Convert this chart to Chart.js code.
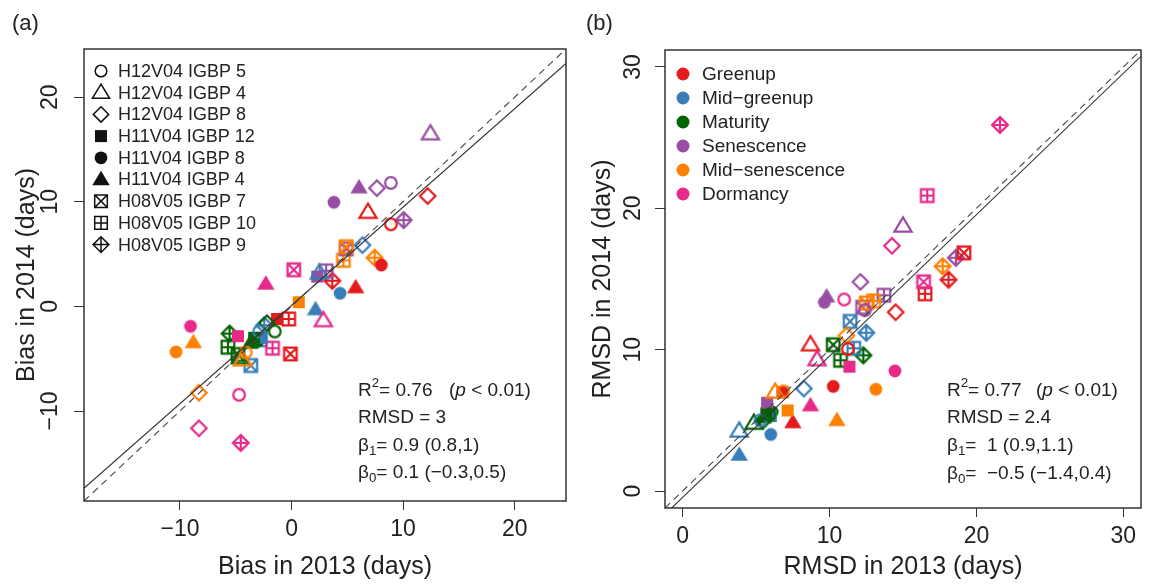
<!DOCTYPE html>
<html>
<head>
<meta charset="utf-8">
<title>Phenology bias and RMSD, 2013 vs 2014</title>
<script src="https://cdn.jsdelivr.net/npm/chart.js@4.4.1/dist/chart.umd.min.js"></script>
<style>
  body { margin: 0; background: #fff; }
  canvas { position: absolute; top: 0; }
  #biasChart { left: 0; }
  #rmsdChart { left: 574px; }
</style>
</head>
<body>
<canvas id="biasChart" width="574" height="584"></canvas>
<canvas id="rmsdChart" width="575" height="584"></canvas>
<script>
// sites set the marker shape, phenophases set the colour
const sites = ['H12V04 IGBP 5', 'H12V04 IGBP 4', 'H12V04 IGBP 8', 'H11V04 IGBP 12', 'H11V04 IGBP 8',
               'H11V04 IGBP 4', 'H08V05 IGBP 7', 'H08V05 IGBP 10', 'H08V05 IGBP 9'];
const phases = ['Greenup', 'Mid\u2212greenup', 'Maturity', 'Senescence', 'Mid\u2212senescence', 'Dormancy'];

// one row per site, one column per phase
const bias2013 = [
  [8.9, -2.9, -1.5, 8.9, -4.1, -4.7],
  [6.85, 2.5, -4.6, 12.45, -4.4, 2.85],
  [12.2, 6.35, -2.2, 7.65, -8.3, -8.3],
  [-1.3, -2.7, -3.35, 2.3, 0.65, -4.8],
  [8.05, 4.35, -3.0, 3.8, -10.35, -9.05],
  [5.75, 2.15, -3.7, 6.05, -8.8, -2.3],
  [-0.1, -3.65, -4.8, 4.9, 4.9, 0.2],
  [-0.25, -2.8, -5.7, 3.1, 4.65, -1.7],
  [3.65, -2.45, -5.55, 10.05, 7.45, -4.55]
];
const bias2014 = [
  [7.85, -2.4, -2.4, 11.8, -4.4, -8.45],
  [9.0, 3.2, -4.9, 16.5, -5.1, -1.35],
  [10.55, 5.85, -1.6, 11.3, -8.25, -11.65],
  [-1.2, -3.0, -3.0, 2.85, 0.4, -2.85],
  [3.95, 1.25, -3.3, 9.95, -4.35, -1.9],
  [1.8, -0.3, -3.5, 11.35, -3.45, 2.15],
  [-4.55, -5.65, -4.6, 5.5, 5.7, 3.5],
  [-1.2, -3.2, -3.9, 3.4, 4.4, -4.0],
  [2.45, -1.8, -2.6, 8.25, 4.65, -13.05]
];
const rmsd2013 = [
  [11.25, 5.3, 5.9, 12.4, 6.85, 11.0],
  [8.7, 3.85, 4.85, 15.0, 6.3, 9.15],
  [14.5, 8.25, 5.5, 12.1, 11.15, 14.25],
  [6.8, 6.0, 5.7, 5.75, 7.15, 11.35],
  [10.25, 6.0, 6.1, 9.65, 13.15, 14.45],
  [7.5, 3.85, 5.5, 9.8, 10.5, 8.7],
  [19.15, 11.4, 10.25, 12.25, 12.5, 16.4],
  [16.5, 11.65, 10.75, 13.7, 13.0, 16.65],
  [18.1, 12.5, 12.3, 18.6, 17.7, 21.6]
];
const rmsd2014 = [
  [10.05, 5.0, 5.4, 12.8, 7.05, 13.55],
  [10.35, 4.25, 4.8, 18.75, 7.0, 9.3],
  [12.65, 7.25, 5.0, 14.8, 11.0, 17.35],
  [7.0, 5.3, 5.5, 6.25, 5.7, 8.8],
  [7.4, 4.0, 5.6, 13.35, 7.2, 8.5],
  [4.85, 2.55, 5.2, 13.75, 5.0, 6.05],
  [16.85, 12.0, 10.35, 13.0, 13.3, 14.8],
  [13.95, 10.1, 9.25, 13.85, 13.45, 20.9],
  [14.95, 11.2, 9.6, 16.5, 15.9, 25.9]
];

const biasRange = [-17, 23];
const rmsdRange = [0, 30];
const biasTicks = [-10, 0, 10, 20];
const rmsdTicks = [0, 10, 20, 30];

// R², RMSD, slope (CI), intercept (CI)
const biasStats = ['0.76', '3', '0.9 (0.8,1)', '0.1 (\u22120.3,0.5)'];
const rmsdStats = ['0.77', '2.4', ' 1 (0.9,1.1)', ' \u22120.5 (\u22121.4,0.4)'];
// intercept, slope of the fitted line
const biasFit = [0.1, 0.94];
const rmsdFit = [-0.45, 1.0];

const shapes = ['circle', 'triangle', 'diamond', 'square', 'disc', 'triangleFill', 'squareX', 'squarePlus', 'diamondPlus'];
const phaseColors = ['#e41a1c', '#377eb8', '#006400', '#984ea3', '#ff7f00', '#e7298a'];
const FONT = "'Liberation Sans', Arial, sans-serif";
const INK = '#222';

Chart.defaults.font.family = FONT;
Chart.defaults.color = INK;

// axis limits padded 4% like base R graphics
function padRange(r) {
  const d = (r[1] - r[0]) * 0.04;
  return [r[0] - d, r[1] + d];
}

function tri(g, h) {
  g.moveTo(0, -h);
  g.lineTo(h, h * 0.65);
  g.lineTo(-h, h * 0.65);
  g.closePath();
}
function dia(g, h) {
  g.moveTo(0, -h); g.lineTo(h, 0); g.lineTo(0, h); g.lineTo(-h, 0); g.closePath();
}

// draws a symbol centred on the current origin
function drawShape(g, shape) {
  g.beginPath();
  const q = 6.3;
  switch (shape) {
    case 'circle': g.arc(0, 0, 5.8, 0, 2 * Math.PI); g.stroke(); break;
    case 'disc': g.arc(0, 0, 6.4, 0, 2 * Math.PI); g.fill(); break;
    case 'triangle': tri(g, 8.6); g.stroke(); break;
    case 'triangleFill': tri(g, 8.7); g.fill(); break;
    case 'diamond': dia(g, 7.7); g.stroke(); break;
    case 'square': g.rect(-6, -6, 12, 12); g.fill(); break;
    case 'squareX':
      g.rect(-q, -q, 2 * q, 2 * q);
      g.moveTo(-q, -q); g.lineTo(q, q); g.moveTo(q, -q); g.lineTo(-q, q);
      g.stroke(); break;
    case 'squarePlus':
      g.rect(-q, -q, 2 * q, 2 * q);
      g.moveTo(0, -q); g.lineTo(0, q); g.moveTo(-q, 0); g.lineTo(q, 0);
      g.stroke(); break;
    case 'diamondPlus':
      dia(g, 7.9);
      g.moveTo(0, -7.9); g.lineTo(0, 7.9); g.moveTo(-7.9, 0); g.lineTo(7.9, 0);
      g.stroke(); break;
  }
}

function marker(shape, color) {
  const c = document.createElement('canvas');
  c.width = c.height = 24;
  const g = c.getContext('2d');
  g.translate(12, 12);
  g.strokeStyle = color;
  g.fillStyle = color;
  g.lineWidth = 2.2;
  drawShape(g, shape);
  return c;
}

function scatterSets(xs, ys) {
  return sites.map((site, i) => ({
    type: 'scatter',
    label: site,
    data: xs[i].map((x, j) => ({ x: x, y: ys[i][j] })),
    pointStyle: phaseColors.map(c => marker(shapes[i], c)),
    pointRadius: 7,
    pointHoverRadius: 7,
    order: 1
  }));
}

function lineSets(lim, fit) {
  return [
    { type: 'line', data: lim.map(x => ({ x: x, y: x })), borderColor: '#444', borderWidth: 1.1,
      borderDash: [7, 5], pointRadius: 0, order: 0 },
    { type: 'line', data: lim.map(x => ({ x: x, y: fit[0] + fit[1] * x })), borderColor: '#333',
      borderWidth: 1.1, pointRadius: 0, order: 0 }
  ];
}

const fmt = v => String(v).replace('-', '\u2212');

function axisX(lim, ticks, title, height, pad) {
  return {
    type: 'linear', position: 'bottom', min: lim[0], max: lim[1],
    afterBuildTicks: s => { s.ticks = ticks.map(v => ({ value: v })); },
    afterFit: s => { s.height = height; },
    grid: { drawOnChartArea: false, drawTicks: true, tickLength: 9, color: '#333' },
    border: { display: false },
    ticks: { font: { size: 23 }, color: INK, padding: pad, maxRotation: 0, autoSkip: false, callback: fmt },
    title: { display: true, text: title, font: { size: 25 }, color: INK, padding: { top: 0, bottom: 2 } }
  };
}

function axisY(lim, ticks, title, width, pad) {
  return {
    type: 'linear', position: 'left', min: lim[0], max: lim[1],
    afterBuildTicks: s => { s.ticks = ticks.map(v => ({ value: v })); },
    afterFit: s => { s.width = width; },
    grid: { drawOnChartArea: false, drawTicks: true, tickLength: 10, color: '#333' },
    border: { display: false },
    ticks: { font: { size: 23 }, color: INK, padding: pad, minRotation: 90, maxRotation: 90,
             crossAlign: 'center', autoSkip: false, callback: fmt },
    title: { display: true, text: title, font: { size: 25 }, color: INK, padding: { top: 0, bottom: 0 } }
  };
}

// text with an optional raised or lowered piece
function richText(ctx, x, y, parts, size) {
  for (const p of parts) {
    let dy = 0;
    if (p.sup) { ctx.font = `${size * 0.7}px ${FONT}`; dy = -size * 0.38; }
    else if (p.sub) { ctx.font = `${size * 0.7}px ${FONT}`; dy = size * 0.3; }
    else if (p.it) { ctx.font = `italic ${size}px ${FONT}`; }
    else { ctx.font = `${size}px ${FONT}`; }
    if (p.at !== undefined) x = p.at;
    ctx.fillText(p.t, x, y + dy);
    x += ctx.measureText(p.t).width;
  }
}

const decor = {
  id: 'decor',
  afterDatasetsDraw(chart, args, o) {
    const { ctx, chartArea: a } = chart;
    ctx.save();
    ctx.strokeStyle = '#333';
    ctx.lineWidth = 1.5;
    ctx.strokeRect(a.left, a.top, a.right - a.left, a.bottom - a.top);

    ctx.fillStyle = INK;
    ctx.textBaseline = 'middle';
    ctx.textAlign = 'left';
    ctx.font = `22px ${FONT}`;
    ctx.fillText(o.tag, 12, 24);

    // legend
    const L = o.legend;
    L.labels.forEach((lab, i) => {
      const y = L.y + L.step * i;
      ctx.save();
      ctx.translate(L.x, y);
      if (L.dots) {
        ctx.fillStyle = phaseColors[i];
        ctx.beginPath(); ctx.arc(0, 0, 6.5, 0, 2 * Math.PI); ctx.fill();
      } else {
        ctx.strokeStyle = '#111'; ctx.fillStyle = '#111'; ctx.lineWidth = 1.5;
        drawShape(ctx, shapes[i]);
      }
      ctx.restore();
      ctx.fillStyle = INK;
      ctx.font = `${L.size}px ${FONT}`;
      ctx.fillText(lab, L.tx, y + 1);
    });

    // regression summary
    const S = o.stats, v = S.values, sz = 19;
    ctx.fillStyle = INK;
    richText(ctx, S.x, S.y[0], [{ t: 'R' }, { t: '2', sup: true }, { t: '= ' + v[0] },
      { t: '(', at: S.px }, { t: 'p', it: true }, { t: ' < 0.01)' }], sz);
    richText(ctx, S.x, S.y[1], [{ t: 'RMSD = ' + v[1] }], sz);
    richText(ctx, S.x, S.y[2], [{ t: '\u03b2' }, { t: '1', sub: true }, { t: '= ' + v[2] }], sz);
    richText(ctx, S.x, S.y[3], [{ t: '\u03b2' }, { t: '0', sub: true }, { t: '= ' + v[3] }], sz);
    ctx.restore();
  }
};

function makeChart(id, cfg) {
  const lim = padRange(cfg.range);
  return new Chart(document.getElementById(id), {
    data: { datasets: lineSets(lim, cfg.fit).concat(scatterSets(cfg.xs, cfg.ys)) },
    options: {
      responsive: false,
      animation: false,
      events: [],
      layout: { padding: cfg.padding },
      scales: {
        x: axisX(lim, cfg.ticks, cfg.xTitle, cfg.xHeight, cfg.xPad),
        y: axisY(lim, cfg.ticks, cfg.yTitle, cfg.yWidth, cfg.yPad)
      },
      plugins: {
        legend: { display: false },
        tooltip: { enabled: false },
        decor: cfg.decor
      }
    },
    plugins: [decor]
  });
}

makeChart('biasChart', {
  range: biasRange, ticks: biasTicks, xs: bias2013, ys: bias2014, fit: biasFit,
  xTitle: 'Bias in 2013 (days)', yTitle: 'Bias in 2014 (days)',
  padding: { left: 12, top: 49, right: 6, bottom: 0 },
  xHeight: 83, xPad: 6, yWidth: 72, yPad: 3.5,
  decor: {
    tag: '(a)',
    legend: { labels: sites, x: 101, tx: 118, y: 71, step: 21.7, size: 18, dots: false },
    stats: { values: biasStats, x: 358, px: 449, y: [391, 418, 446, 473] }
  }
});

makeChart('rmsdChart', {
  range: rmsdRange, ticks: rmsdTicks, xs: rmsd2013, ys: rmsd2014, fit: rmsdFit,
  xTitle: 'RMSD in 2013 (days)', yTitle: 'RMSD in 2014 (days)',
  padding: { left: 14, top: 50, right: 2, bottom: 0 },
  xHeight: 76, xPad: 6, yWidth: 77, yPad: 9,
  decor: {
    tag: '(b)',
    legend: { labels: phases, x: 109, tx: 128, y: 74, step: 24, size: 19, dots: true },
    stats: { values: rmsdStats, x: 373, px: 462, y: [391, 418, 446, 474] }
  }
});
</script>
</body>
</html>
